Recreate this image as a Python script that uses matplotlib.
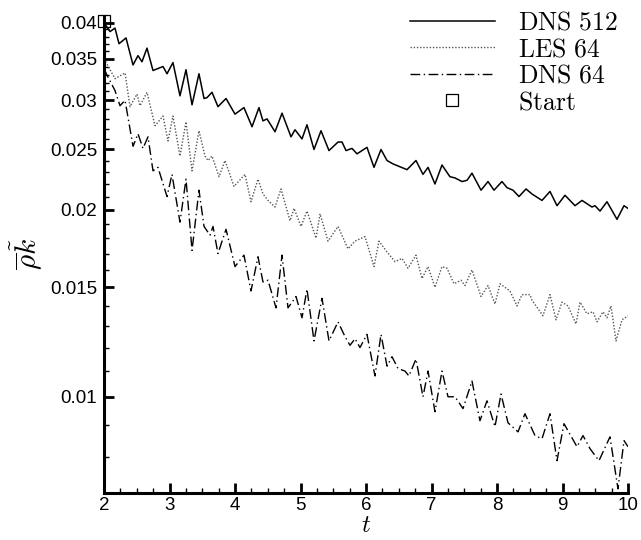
import matplotlib
matplotlib.use("Agg")
import matplotlib.pyplot as plt
from matplotlib.ticker import FixedLocator, FixedFormatter, MultipleLocator
from matplotlib.lines import Line2D
import numpy as np

plt.rcParams['mathtext.fontset'] = 'cm'

# ---------------- data ----------------
t_dns512 = [2.0, 2.092, 2.168, 2.229, 2.336, 2.443, 2.519, 2.580, 2.656, 2.748, 2.901, 2.962, 3.053,
            3.160, 3.252, 3.344, 3.450, 3.527, 3.573, 3.649, 3.740, 3.863, 4.000, 4.137, 4.260, 4.366,
            4.427, 4.489, 4.611, 4.718, 4.855, 4.916, 5.023, 5.099, 5.206, 5.313, 5.435, 5.573, 5.634,
            5.695, 5.786, 5.863, 6.015, 6.122, 6.229, 6.321, 6.412, 6.626, 6.763, 6.870, 6.947, 7.053,
            7.160, 7.282, 7.359, 7.466, 7.542, 7.618, 7.756, 7.863, 7.954, 8.076, 8.153, 8.244, 8.336,
            8.443, 8.534, 8.687, 8.809, 8.916, 9.038, 9.191, 9.298, 9.450, 9.496, 9.573, 9.679, 9.832,
            9.939, 10.0]
k_dns512 = [0.0400, 0.0387, 0.0392, 0.0370, 0.0378, 0.0342, 0.0354, 0.0346, 0.0364, 0.0335, 0.0340, 0.0331, 0.0345,
            0.0305, 0.0336, 0.0295, 0.0331, 0.0302, 0.0303, 0.0309, 0.0293, 0.0302, 0.0285, 0.0292, 0.0272, 0.0292,
            0.0278, 0.0280, 0.0267, 0.0286, 0.0262, 0.0269, 0.0260, 0.0274, 0.0250, 0.0268, 0.0249, 0.0257, 0.0257,
            0.0249, 0.0251, 0.0246, 0.0252, 0.0234, 0.0250, 0.0240, 0.0237, 0.0232, 0.0240, 0.0228, 0.0234, 0.0220,
            0.0236, 0.0226, 0.0225, 0.0222, 0.0223, 0.0229, 0.0215, 0.0222, 0.0215, 0.0222, 0.0217, 0.0215, 0.0210,
            0.0216, 0.0212, 0.0207, 0.0214, 0.0203, 0.0211, 0.0203, 0.0207, 0.0202, 0.0203, 0.0199, 0.0206, 0.0193,
            0.0203, 0.0201]

t_les64 = [2.0, 2.168, 2.321, 2.397, 2.504, 2.550, 2.656, 2.779, 2.901, 2.977, 3.053, 3.160, 3.252, 3.344,
           3.450, 3.542, 3.588, 3.649, 3.756, 3.847, 3.985, 4.153, 4.244, 4.351, 4.427, 4.504, 4.611, 4.702,
           4.840, 4.901, 5.008, 5.099, 5.237, 5.298, 5.420, 5.573, 5.725, 5.832, 5.985, 6.122, 6.198, 6.321,
           6.443, 6.550, 6.641, 6.763, 6.855, 6.947, 7.053, 7.160, 7.237, 7.344, 7.450, 7.511, 7.618, 7.756,
           7.863, 7.969, 8.046, 8.198, 8.305, 8.382, 8.504, 8.534, 8.702, 8.809, 8.901, 8.992, 9.084, 9.206,
           9.267, 9.374, 9.466, 9.527, 9.618, 9.679, 9.740, 9.817, 9.908, 10.0]
k_les64 = [0.0350, 0.0325, 0.0332, 0.0293, 0.0307, 0.0294, 0.0309, 0.0273, 0.0283, 0.0258, 0.0283, 0.0244, 0.0277, 0.0231,
           0.0268, 0.0244, 0.0240, 0.0244, 0.0226, 0.0240, 0.0218, 0.0228, 0.0206, 0.0224, 0.0212, 0.0207, 0.0202, 0.0216,
           0.0192, 0.0201, 0.0188, 0.0199, 0.0180, 0.0197, 0.0178, 0.0188, 0.0173, 0.0178, 0.0181, 0.0162, 0.0178, 0.0171,
           0.0165, 0.0167, 0.0161, 0.0169, 0.0155, 0.0162, 0.0150, 0.0162, 0.0161, 0.0152, 0.0154, 0.0151, 0.0160, 0.0145,
           0.0151, 0.0141, 0.0152, 0.0148, 0.0140, 0.0146, 0.0146, 0.0143, 0.0135, 0.0146, 0.0133, 0.0142, 0.0140, 0.0131,
           0.0142, 0.0136, 0.0137, 0.0132, 0.0137, 0.0134, 0.0140, 0.0123, 0.0133, 0.0135]

t_dns64 = [2.0, 2.061, 2.168, 2.244, 2.321, 2.443, 2.519, 2.595, 2.672, 2.748, 2.824, 2.962, 3.038, 3.160,
           3.252, 3.344, 3.450, 3.527, 3.618, 3.664, 3.740, 3.863, 4.000, 4.137, 4.244, 4.351, 4.427, 4.504,
           4.626, 4.718, 4.809, 4.931, 5.023, 5.099, 5.206, 5.328, 5.435, 5.573, 5.679, 5.756, 5.832, 5.908,
           6.015, 6.137, 6.229, 6.321, 6.397, 6.489, 6.595, 6.656, 6.763, 6.870, 6.947, 7.053, 7.160, 7.252,
           7.359, 7.481, 7.618, 7.740, 7.847, 7.969, 8.061, 8.168, 8.321, 8.427, 8.580, 8.687, 8.809, 8.916,
           9.023, 9.221, 9.313, 9.420, 9.557, 9.725, 9.847, 9.939, 10.0]
k_dns64 = [0.0337, 0.0327, 0.0311, 0.0294, 0.0300, 0.0253, 0.0265, 0.0251, 0.0262, 0.0231, 0.0234, 0.0210, 0.0228, 0.0191,
           0.0224, 0.0172, 0.0215, 0.0188, 0.0182, 0.0188, 0.0170, 0.0186, 0.0162, 0.0169, 0.0148, 0.0168, 0.0153, 0.0154,
           0.0139, 0.0169, 0.0139, 0.0145, 0.0134, 0.0149, 0.0123, 0.0144, 0.0123, 0.0132, 0.0125, 0.0121, 0.0124, 0.0120,
           0.0126, 0.0108, 0.0126, 0.0112, 0.0116, 0.0111, 0.0110, 0.0108, 0.0115, 0.0100, 0.0110, 0.00946, 0.0110, 0.0100,
           0.0100, 0.00957, 0.0106, 0.00915, 0.00985, 0.00895, 0.0101, 0.00908, 0.00878, 0.00939, 0.00866, 0.00856, 0.00939, 0.00789,
           0.00905, 0.00831, 0.00866, 0.00825, 0.00789, 0.00862, 0.00711, 0.00850, 0.00831]

start_t = [2.0]
start_k = [0.0403]

labels = ["DNS 512", "LES 64", "DNS 64", "Start"]
y_major = [0.01, 0.015, 0.02, 0.025, 0.03, 0.035, 0.04]
y_major_labels = ["0.01", "0.015", "0.02", "0.025", "0.03", "0.035", "0.04"]
y_minor = [0.008, 0.009, 0.011, 0.012, 0.013, 0.014, 0.016, 0.017, 0.018, 0.019,
           0.021, 0.022, 0.023, 0.024, 0.026, 0.027, 0.028, 0.029, 0.031, 0.032,
           0.033, 0.034, 0.036, 0.037, 0.038, 0.039]
x_major = [2, 3, 4, 5, 6, 7, 8, 9, 10]

# ---------------- plot ----------------
fig = plt.figure(figsize=(6.41, 5.40), dpi=100)
ax = fig.add_axes([104/641, 47/540, 524/641, 477/540])

ax.set_yscale('log')
ax.plot(t_dns512, k_dns512, color='black', lw=1.1, ls='-')
ax.plot(t_les64, k_les64, color='#555555', lw=1.0, ls=(0, (1, 1.3)))
ax.plot(t_dns64, k_dns64, color='black', lw=1.0, ls=(0, (7, 2.5, 1, 2.5)))
ax.plot(start_t, start_k, ls='none', marker='s', mfc='none', mec='black', ms=8, mew=0.9, clip_on=False)

ax.set_xlim(2, 10)
ax.set_ylim(0.007, 0.041)

ax.yaxis.set_major_locator(FixedLocator(y_major))
ax.yaxis.set_major_formatter(FixedFormatter(y_major_labels))
ax.yaxis.set_minor_locator(FixedLocator(y_minor))
ax.yaxis.set_minor_formatter(FixedFormatter([""] * len(y_minor)))
ax.xaxis.set_major_locator(FixedLocator(x_major))
ax.xaxis.set_major_formatter(FixedFormatter([str(v) for v in x_major]))
ax.xaxis.set_minor_locator(MultipleLocator(0.25))

for s in ['top', 'right']:
    ax.spines[s].set_visible(False)
for s in ['left', 'bottom']:
    ax.spines[s].set_linewidth(2.2)

ax.tick_params(which='major', direction='in', length=7, width=2.0, labelsize=13.5, pad=5)
ax.tick_params(axis='x', which='major', pad=3)
ax.tick_params(which='minor', direction='in', length=3.5, width=1.0)
for lab in ax.get_xticklabels() + ax.get_yticklabels():
    lab.set_fontfamily('Liberation Sans')

ax.set_xlabel(r'$t$', fontsize=18, labelpad=-1)
ax.set_ylabel(r'$\overline{\rho}\tilde{k}$', fontsize=21, labelpad=4)

handles = [
    Line2D([], [], color='black', lw=1.1, ls='-'),
    Line2D([], [], color='#555555', lw=1.0, ls=(0, (1, 1.3))),
    Line2D([], [], color='black', lw=1.0, ls=(0, (7, 2.5, 1, 2.5))),
    Line2D([], [], ls='none', marker='s', mfc='none', mec='black', ms=8, mew=0.9),
]
leg = ax.legend(handles, [r'$\mathrm{%s}$' % l.replace(' ', r'\ ') for l in labels],
                loc='upper right', bbox_to_anchor=(1.0, 1.035), frameon=False,
                fontsize=18.5, handlelength=3.3, handletextpad=0.9, labelspacing=0.02,
                borderaxespad=0.0)

fig.savefig('out.png', dpi=100)
